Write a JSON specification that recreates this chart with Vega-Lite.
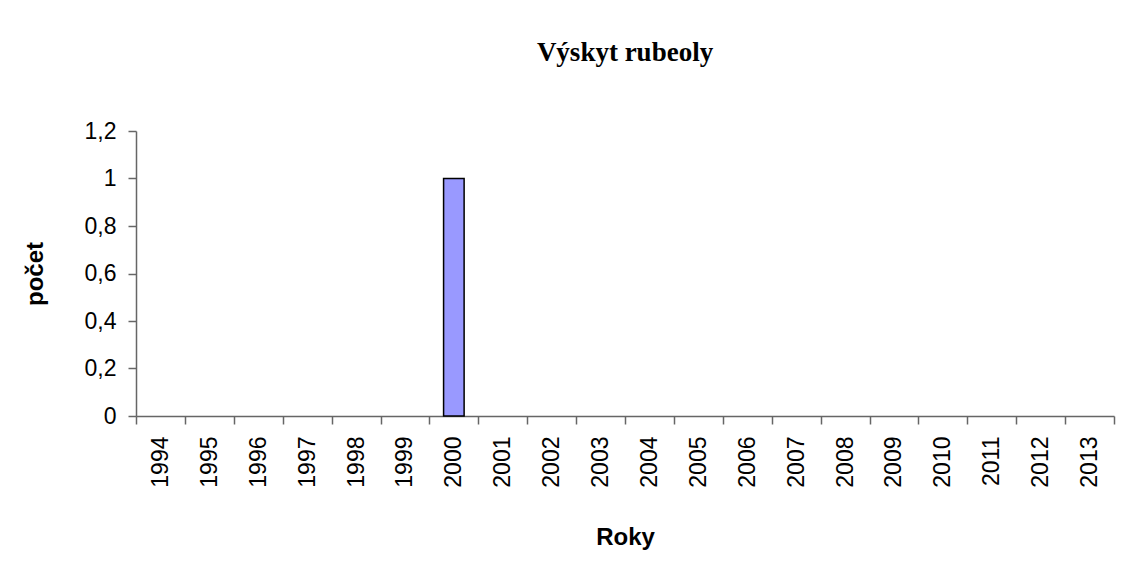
{
  "$schema": "https://vega.github.io/schema/vega-lite/v6.json",
  "width": 978,
  "height": 285,
  "autosize": {"type": "none"},
  "padding": {"left": 136, "top": 131, "right": 9, "bottom": 145},
  "background": "white",
  "title": {
    "text": "Výskyt rubeoly",
    "font": "Liberation Serif",
    "fontSize": 27,
    "fontWeight": "bold",
    "color": "black",
    "anchor": "middle",
    "frame": "group",
    "baseline": "alphabetic",
    "offset": 32
  },
  "data": {
    "values": [
      {"rok": "1994", "pocet": 0},
      {"rok": "1995", "pocet": 0},
      {"rok": "1996", "pocet": 0},
      {"rok": "1997", "pocet": 0},
      {"rok": "1998", "pocet": 0},
      {"rok": "1999", "pocet": 0},
      {"rok": "2000", "pocet": 1},
      {"rok": "2001", "pocet": 0},
      {"rok": "2002", "pocet": 0},
      {"rok": "2003", "pocet": 0},
      {"rok": "2004", "pocet": 0},
      {"rok": "2005", "pocet": 0},
      {"rok": "2006", "pocet": 0},
      {"rok": "2007", "pocet": 0},
      {"rok": "2008", "pocet": 0},
      {"rok": "2009", "pocet": 0},
      {"rok": "2010", "pocet": 0},
      {"rok": "2011", "pocet": 0},
      {"rok": "2012", "pocet": 0},
      {"rok": "2013", "pocet": 0}
    ]
  },
  "mark": {"type": "bar", "width": {"band": 0.42}, "fill": "#9999FF", "stroke": "black", "strokeWidth": 1.5},
  "encoding": {
    "x": {
      "field": "rok",
      "type": "ordinal",
      "scale": {"paddingInner": 0, "paddingOuter": 0},
      "axis": {
        "title": "Roky",
        "labelAngle": -90,
        "labelAlign": "right",
        "labelBaseline": "middle",
        "tickBand": "extent",
        "labelPadding": 12,
        "tickSize": 8,
        "titlePadding": 38
      }
    },
    "y": {
      "field": "pocet",
      "type": "quantitative",
      "scale": {"domain": [0, 1.2], "nice": false},
      "axis": {
        "title": "počet",
        "values": [0, 0.2, 0.4, 0.6, 0.8, 1, 1.2],
        "labelExpr": "replace(format(datum.value, '~g'), '.', ',')",
        "grid": false,
        "tickSize": 8,
        "labelPadding": 12,
        "titlePadding": 37
      }
    },
    "strokeOpacity": {
      "condition": {"test": "datum.pocet > 0", "value": 1},
      "value": 0
    }
  },
  "config": {
    "view": {"stroke": null},
    "axis": {
      "labelFont": "Liberation Sans",
      "labelFontSize": 23,
      "labelColor": "black",
      "titleFont": "Liberation Sans",
      "titleFontSize": 24,
      "titleFontWeight": "bold",
      "titleColor": "black",
      "domainColor": "#666666",
      "tickColor": "#666666",
      "domainWidth": 1.5,
      "tickWidth": 1.5
    }
  }
}
